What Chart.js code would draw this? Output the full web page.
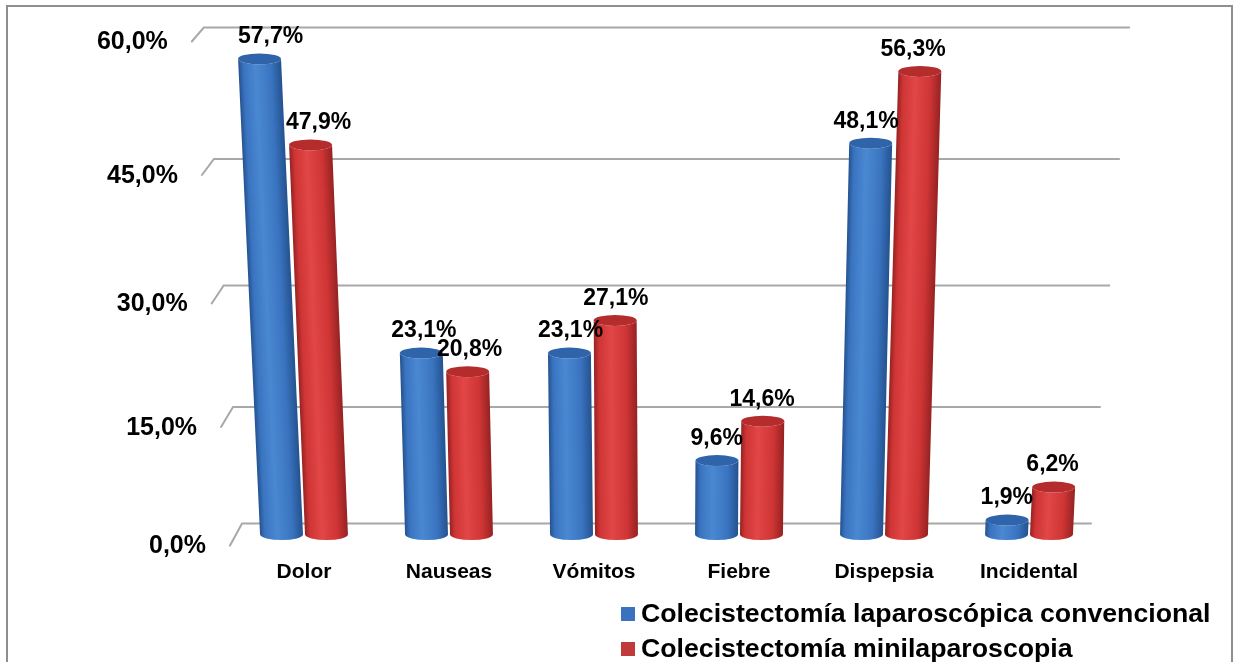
<!DOCTYPE html>
<html lang="es">
<head>
<meta charset="utf-8">
<title>Síntomas: colecistectomía convencional vs minilaparoscopia</title>
<script src="https://cdn.jsdelivr.net/npm/chart.js@4.4.1/dist/chart.umd.min.js"></script>
<style>
  html, body { margin: 0; padding: 0; background: #ffffff; }
  #wrap { position: relative; width: 1234px; height: 662px; overflow: hidden; background: #ffffff; }
  #frame { position: absolute; left: 6px; top: 5px; width: 1227px; height: 720px;
           border: 2px solid #8e8e8e; box-sizing: border-box; pointer-events: none; }
  #chart { position: absolute; left: 0; top: 0; }
  #legend { position: absolute; left: 621px; top: 596px; font-family: "Liberation Sans", Arial, sans-serif;
            font-weight: bold; font-size: 26.7px; color: #000; letter-spacing: 0; }
  #legend .row { display: flex; align-items: center; height: 35px; white-space: nowrap; }
  #legend .sw { width: 14px; height: 14px; margin-right: 6px; flex: none; }
</style>
</head>
<body>
<div id="wrap">
  <canvas id="chart" width="1234" height="662"></canvas>
  <div id="legend"></div>
  <div id="frame"></div>
</div>
<script>
// Categories and percentages per surgical technique
const categories = ['Dolor', 'Nauseas', 'Vómitos', 'Fiebre', 'Dispepsia', 'Incidental'];
const convencional = [57.7, 23.1, 23.1, 9.6, 48.1, 1.9];
const minilaparoscopia = [47.9, 20.8, 27.1, 14.6, 56.3, 6.2];
const seriesNames = ['Colecistectomía laparoscópica convencional', 'Colecistectomía minilaparoscopia'];
const yTicks = [0, 15, 30, 45, 60];

// Cylinder colours
const palettes = [
  { edge: '#24528f', light: '#4a88d2', mid: '#3a74c0', cap: '#2f63aa', key: '#3a72bf' },
  { edge: '#962222', light: '#e24646', mid: '#cf3535', cap: '#b52c2c', key: '#c0393b' }
];

const fmtPct = v => v.toFixed(1).replace('.', ',') + '%';

// Linear scale with a slight perspective stretch toward the top of the plot
class DepthScale extends Chart.LinearScale {
  curve() { const k = this.options.curve; return (typeof k === 'number') ? k : 0.08; }
  getPixelForValue(value) {
    const t = (value - this.min) / (this.max - this.min);
    const k = this.curve();
    return this.bottom - (this.bottom - this.top) * ((1 - k) * t + k * t * t);
  }
  getValueForPixel(pixel) {
    const p = (this.bottom - pixel) / (this.bottom - this.top);
    const k = this.curve();
    const t = k === 0 ? p : (-(1 - k) + Math.sqrt((1 - k) * (1 - k) + 4 * k * p)) / (2 * k);
    return this.min + t * (this.max - this.min);
  }
}
DepthScale.id = 'depth';
DepthScale.defaults = Chart.LinearScale.defaults;
Chart.register(DepthScale);

const LEAN = 0.00012;     // horizontal divergence of the bars with height
const BACK_SHIFT = 11;    // back wall sits this many px above the front plane

const wallPlugin = {
  id: 'wall',
  beforeDatasetsDraw(chart) {
    const { ctx, chartArea: a, scales: { y } } = chart;
    const cx = (a.left + a.right) / 2;
    const halfFront = (a.right - a.left) / 2;
    const backBottom = a.bottom - BACK_SHIFT;
    ctx.save();
    ctx.strokeStyle = '#a8a8a8';
    ctx.lineWidth = 2;
    ctx.lineCap = 'round';
    ctx.font = 'bold 25px "Liberation Sans", Arial, sans-serif';
    ctx.fillStyle = '#000';
    ctx.textAlign = 'right';
    ctx.textBaseline = 'middle';
    yTicks.forEach(v => {
      const yf = y.getPixelForValue(v);
      const t = (v - y.min) / (y.max - y.min);
      const yb = yf - BACK_SHIFT;
      const half = halfFront - 10.5 + (backBottom - yb) * 0.077;
      const xl = cx - half, xr = cx + half;
      const yLabel = yf + 11 - 8 * t;
      const xFront = xl - 12;
      ctx.beginPath();
      ctx.moveTo(xFront, yLabel);
      ctx.lineTo(xl, yb);
      ctx.lineTo(xr, yb);
      ctx.stroke();
      ctx.fillText(fmtPct(v), xFront - 24, yLabel + 1);
    });
    ctx.restore();
  },
  afterDatasetsDraw(chart) {
    const { ctx, chartArea: a, scales: { x } } = chart;
    const cx = (a.left + a.right) / 2;
    const labels = [];
    chart.data.datasets.forEach((ds, di) => {
      const meta = chart.getDatasetMeta(di);
      const pal = palettes[di];
      meta.data.forEach((bar, i) => {
        const p = bar.getProps(['x', 'y', 'base', 'width'], true);
        const h = p.base - p.y;
        const shx = -(p.x - cx) * LEAN;
        const r = p.width / 2 - 1;
        const ry = 5.5;
        ctx.save();
        ctx.translate(p.x, p.base);
        ctx.transform(1, 0, shx, 1, 0, 0);
        const g = ctx.createLinearGradient(-r, 0, r, 0);
        g.addColorStop(0, pal.edge);
        g.addColorStop(0.12, pal.mid);
        g.addColorStop(0.4, pal.light);
        g.addColorStop(0.75, pal.mid);
        g.addColorStop(1, pal.edge);
        ctx.beginPath();
        ctx.moveTo(-r, -h);
        ctx.lineTo(-r, 0);
        ctx.ellipse(0, 0, r, ry, 0, Math.PI, 0, true);
        ctx.lineTo(r, -h);
        ctx.ellipse(0, -h, r, ry, 0, 0, Math.PI, false);
        ctx.closePath();
        ctx.fillStyle = g;
        ctx.fill();
        ctx.beginPath();
        ctx.ellipse(0, -h, r, ry, 0, 0, Math.PI * 2);
        ctx.fillStyle = pal.cap;
        ctx.fill();
        ctx.restore();
        const topX = p.x + (p.x - cx) * LEAN * h;
        labels.push({ x: (p.x + topX) / 2, y: p.y - 22, text: fmtPct(ds.data[i]) });
      });
    });
    ctx.save();
    ctx.fillStyle = '#000';
    ctx.textAlign = 'center';
    ctx.textBaseline = 'middle';
    ctx.font = 'bold 23px "Liberation Sans", Arial, sans-serif';
    labels.forEach(l => ctx.fillText(l.text, l.x, l.y));
    ctx.font = 'bold 21px "Liberation Sans", Arial, sans-serif';
    categories.forEach((c, i) => ctx.fillText(c, x.getPixelForValue(i), 572));
    ctx.restore();
  }
};

const chart = new Chart(document.getElementById('chart'), {
  type: 'bar',
  data: {
    labels: categories,
    datasets: [
      { label: seriesNames[0], data: convencional, backgroundColor: 'rgba(0,0,0,0)', borderWidth: 0 },
      { label: seriesNames[1], data: minilaparoscopia, backgroundColor: 'rgba(0,0,0,0)', borderWidth: 0 }
    ]
  },
  options: {
    responsive: false,
    animation: false,
    devicePixelRatio: 1,
    layout: { padding: { left: 231.5, right: 132.5, top: 38.5, bottom: 127.4 } },
    datasets: { bar: { categoryPercentage: 0.62, barPercentage: 1 } },
    plugins: { legend: { display: false }, tooltip: { enabled: false } },
    scales: {
      x: { display: false },
      y: { type: 'depth', display: false, min: 0, max: 60, curve: 0.0802 }
    }
  },
  plugins: [wallPlugin]
});

// Legend built from the datasets
const legendEl = document.getElementById('legend');
chart.data.datasets.forEach((ds, i) => {
  const row = document.createElement('div');
  row.className = 'row';
  const sw = document.createElement('span');
  sw.className = 'sw';
  sw.style.background = palettes[i].key;
  const tx = document.createElement('span');
  tx.textContent = ds.label;
  row.appendChild(sw);
  row.appendChild(tx);
  legendEl.appendChild(row);
});
</script>
</body>
</html>
